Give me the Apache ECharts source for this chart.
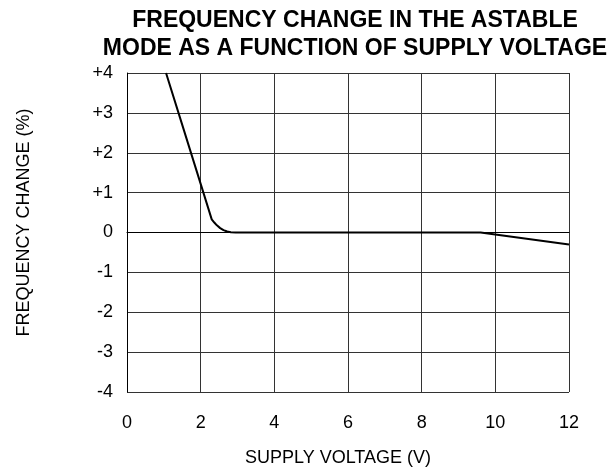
<!DOCTYPE html>
<html><head><meta charset="utf-8">
<script src="https://cdn.jsdelivr.net/npm/echarts@6/dist/echarts.min.js"></script>
<style>html,body{margin:0;padding:0;background:#fff}#c{width:616px;height:474px}</style>
</head><body><div id="c"></div>
<script>
const titleLines = ['FREQUENCY CHANGE IN THE ASTABLE', 'MODE AS A FUNCTION OF SUPPLY VOLTAGE'];
const xName = 'SUPPLY VOLTAGE (V)';
const yName = 'FREQUENCY CHANGE (%)';
const xTicks = ['0','2','4','6','8','10','12'];
const yTicks = ['-4','-3','-2','-1','0','+1','+2','+3','+4'];
const voltage = [1.06, 1.5, 2.0, 2.3, 2.37, 2.44, 2.53, 2.62, 2.72, 2.82, 2.95, 3.2, 4, 6, 8, 9.6, 12];
const freqChange = [4.0, 2.7, 1.22, 0.33, 0.25, 0.18, 0.11, 0.06, 0.025, 0.008, 0.0, 0.0, 0.0, 0.0, 0.0, 0.0, -0.3];

const chart = echarts.init(document.getElementById('c'));
const font = 'Liberation Sans, Arial, sans-serif';
chart.setOption({
  animation: false,
  title: {
    text: titleLines.join('\n'),
    left: 350, top: 2, textAlign: 'center',
    textStyle: {fontFamily: font, fontWeight: 'bold', fontSize: 23, color: '#000', lineHeight: 28}
  },
  grid: {left: 127, right: 47, top: 73, bottom: 82},
  xAxis: {
    type: 'value', min: 0, max: 12, interval: 2,
    name: xName, nameLocation: 'middle', nameGap: 57,
    nameTextStyle: {fontFamily: font, fontSize: 18, color: '#000', padding: [0, 20, 0, 0]},
    axisLine: {show: true, lineStyle: {color: '#000', width: 1}},
    axisTick: {show: false},
    axisLabel: {margin: 22, fontFamily: font, fontSize: 18, color: '#000',
      formatter: v => xTicks[Math.round(v / 2)]},
    splitLine: {show: true, lineStyle: {color: '#333', width: 1}}
  },
  yAxis: {
    type: 'value', min: -4, max: 4, interval: 1,
    name: yName, nameLocation: 'middle', nameGap: 94, nameRotate: 90,
    nameTextStyle: {fontFamily: font, fontSize: 18, color: '#000', padding: [0, 0, 0, 20]},
    axisLine: {show: true, lineStyle: {color: '#000', width: 1}},
    axisTick: {show: false},
    axisLabel: {margin: 14, fontFamily: font, fontSize: 18, color: '#000',
      formatter: v => yTicks[Math.round(v) + 4]},
    splitLine: {show: true, lineStyle: {color: '#333', width: 1}}
  },
  series: [{
    type: 'line', showSymbol: false, smooth: false,
    data: voltage.map((v, i) => [v, freqChange[i]]),
    lineStyle: {color: '#000', width: 2}
  }]
});
</script>
</body></html>
